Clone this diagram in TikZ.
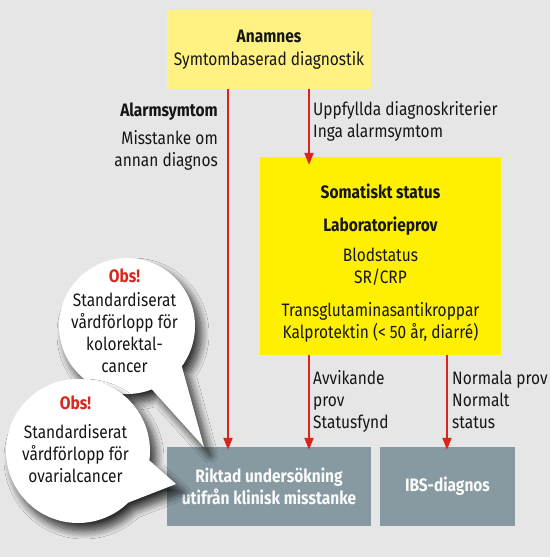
\documentclass[tikz,border=0pt]{standalone}
\usepackage{fontspec}
\setmainfont{Fira Sans}[FakeStretch=0.86]
\usepackage{tikz}
\usetikzlibrary{positioning, arrows.meta, shadows.blur}

\definecolor{bakgrund}{HTML}{E6E6E6}
\definecolor{ljusgul}{HTML}{FFF283}
\definecolor{gul}{HTML}{FFF000}
\definecolor{gra}{HTML}{8799A1}
\definecolor{rod}{HTML}{DA251D}
\definecolor{svart}{HTML}{161616}

\newcommand{\stil}{\fontsize{18}{22}\selectfont}

\tikzset{
  ruta/.style={inner sep=0pt, align=center, text=svart},
  grruta/.style={ruta, fill=gra, text=white!95!gra, font=\stil\bfseries,
    minimum height=79pt},
  pil/.style={draw=rod, line width=2pt, -{Triangle[length=12pt, width=9pt]}},
  etikett/.style={inner sep=0pt, text=svart},
  bubbla/.style={fill=white, blur shadow={shadow xshift=6pt, shadow yshift=-8pt,
    shadow blur radius=8pt, shadow blur steps=12, shadow opacity=80}},
}

\begin{document}
\begin{tikzpicture}[x=1pt, y=-1pt, font=\stil]

% Bakgrund
\fill[bakgrund] (0,0) rectangle (550,557);
\useasboundingbox (0,0) rectangle (550,557);

% Rutor
\node[ruta, fill=ljusgul, minimum width=204pt, minimum height=79pt] (anamnes) at (269,49.5)
  {\textbf{Anamnes}\\[1pt]Symtombaserad diagnostik};
\node[ruta, fill=gul, minimum width=241pt, minimum height=198pt] (somatiskt) at (380.5,256) {};
\node[ruta] (somatext) at ([yshift=-7pt]somatiskt.center)
  {\textbf{Somatiskt status}\\[11pt]\textbf{Laboratorieprov}\\[8pt]Blodstatus\\SR/CRP\\[11pt]%
   Transglutaminasantikroppar\\Kalprotektin (< 50 år, diarré)};
\node[grruta, minimum width=204pt] (riktad) at (269,486.5)
  {Riktad undersökning\\utifrån klinisk misstanke};
\node[grruta, minimum width=135pt] (ibs) at (447.5,486.5) {IBS-diagnos};

% Pilar
\coordinate (vanster) at (228,0);
\coordinate (mitten) at (309,0);
\coordinate (hoger) at (447,0);
\draw[pil, shorten >=-3pt] (anamnes.south -| vanster) -- (riktad.north -| vanster);
\draw[pil, shorten >=-8pt] (anamnes.south -| mitten) -- (somatiskt.north -| mitten);
\draw[pil, shorten >=-3pt] (somatiskt.south -| mitten) -- (riktad.north -| mitten);
\draw[pil, shorten >=-3pt] (somatiskt.south -| hoger) -- (ibs.north -| hoger);

% Etiketter vid pilarna
\node[etikett, anchor=base east] (alarm) at (218,116) {\textbf{Alarmsymtom}};
\node[etikett, anchor=base east, align=right] (misstanke) at (218,166)
  {Misstanke om\\annan diagnos};
\node[etikett, anchor=base west, align=left] (uppfyllda) at (313,137.5)
  {Uppfyllda diagnoskriterier\\Inga alarmsymtom};
\node[etikett, anchor=base west, align=left] (avvikande) at (313,428)
  {Avvikande\\prov\\Statusfynd};
\node[etikett, anchor=base west, align=left] (normala) at (452,428)
  {Normala prov\\Normalt\\status};

% Pratbubblor
\fill[bubbla] (151.8,389.3) -- (204,447) -- (181.8,366.3)
  arc[start angle=36.3, end angle=-291.4, radius=68] -- cycle;
\node[ruta] (obs1) at (124.5,321)
  {\textcolor{rod}{\textbf{Obs!}}\\[2pt]Standardiserat\\vårdförlopp för\\kolorektal-\\cancer};

\fill[bubbla] (149.4,460.5) -- (176,484) -- (128.2,502.6)
  arc[start angle=45.8, end angle=367.6, radius=72] -- cycle;
\node[ruta] (obs2) at (75.5,439)
  {\textcolor{rod}{\textbf{Obs!}}\\[7pt]Standardiserat\\vårdförlopp för\\ovarialcancer};

\end{tikzpicture}
\end{document}
